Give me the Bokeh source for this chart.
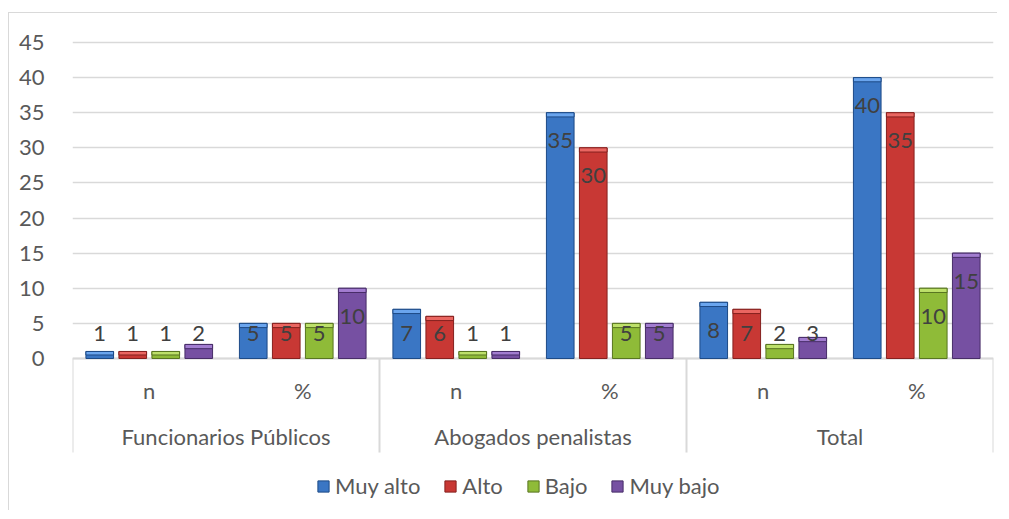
import numpy as np
from bokeh.plotting import figure
from bokeh.models import Range1d, FixedTicker, Legend, LegendItem, ColumnDataSource
from bokeh.core.properties import value
from bokeh.embed import file_html
from bokeh.resources import INLINE

# ---- data ----
groups = ["Funcionarios Públicos", "Abogados penalistas", "Total"]
subcats = ["n", "%", "n", "%", "n", "%"]
series = ["Muy alto", "Alto", "Bajo", "Muy bajo"]
muy_alto = [1, 5, 7, 35, 8, 40]
alto = [1, 5, 6, 30, 7, 35]
bajo = [1, 5, 1, 5, 2, 10]
muy_bajo = [2, 10, 1, 5, 3, 15]
y_ticks = [0, 5, 10, 15, 20, 25, 30, 35, 40, 45]

fills = ["#3a76c4", "#c83834", "#8fbb38", "#7650a2"]
edges = ["#1d4a86", "#85201e", "#587520", "#472d68"]
bevels = ["#6aa5ee", "#ea6661", "#bde06a", "#a27dd0"]

FONT = "Lato"
TXT = "#595959"
GRID = "#d9d9d9"
FS = "22px"

p = figure(width=989, height=498, output_backend="svg", toolbar_location=None,
           x_range=Range1d(0, 6), y_range=Range1d(-21.789, 46.709),
           min_border_left=63, min_border_right=5, min_border_top=17, min_border_bottom=0)
p.styles = {"margin-top": "12px", "margin-left": "8px",
            "border-top": "1px solid #d9d9d9", "border-left": "1px solid #d9d9d9"}
p.outline_line_color = None
p.xaxis.visible = False
p.xgrid.visible = False
p.yaxis.ticker = FixedTicker(ticks=y_ticks)
p.yaxis.axis_line_color = None
p.yaxis.major_tick_line_color = None
p.yaxis.minor_tick_line_color = None
p.yaxis.major_label_standoff = 22
p.yaxis.major_label_text_font = FONT
p.yaxis.major_label_text_font_size = FS
p.yaxis.major_label_text_color = TXT
p.ygrid.grid_line_color = GRID
p.ygrid.grid_line_width = 1.3

# axis line and dividers
p.segment(x0=[0], y0=[0], x1=[6], y1=[0], line_color=GRID, line_width=2)
div_x = [0, 2, 4, 6]
p.segment(x0=div_x, y0=[0] * 4, x1=div_x, y1=[-13.39] * 4, line_color=GRID, line_width=2)

step = 0.215
bw = 0.18
legend_items = []
all_vals = [muy_alto, alto, bajo, muy_bajo]
for j, (name, vals) in enumerate(zip(series, all_vals)):
    v = np.array(vals, dtype=float)
    xs = np.arange(len(v)) + 0.5 + (j - 1.5) * step
    src = ColumnDataSource(dict(x=xs, top=v, bev=v - np.minimum(0.6, v * 0.5),
                                ly=np.maximum(v - 4.0, 3.6), lab=[str(int(a)) for a in v]))
    r = p.vbar(x="x", top="top", bottom=0, width=bw, source=src,
               fill_color=fills[j], line_color=edges[j], line_width=1)
    p.vbar(x="x", top="top", bottom="bev", width=bw, source=src,
           fill_color=bevels[j], line_color=edges[j], line_width=1)
    p.text(x="x", y="ly", text="lab", source=src, text_align="center", text_baseline="middle",
           text_font=value(FONT), text_font_size=FS, text_color="#404040")
    legend_items.append(LegendItem(label=name, renderers=[r]))

# category labels
sub_x = np.arange(len(subcats)) + 0.5
p.text(x=sub_x, y=[-4.56] * len(subcats), text=subcats, text_align="center", text_baseline="middle",
       text_font=value(FONT), text_font_size=FS, text_color=TXT)
grp_x = np.arange(len(groups)) * 2 + 1.0
p.text(x=grp_x, y=[-11.1] * len(groups), text=groups, text_align="center", text_baseline="middle",
       text_font=value(FONT), text_font_size=FS, text_color=TXT)

legend = Legend(items=legend_items, orientation="horizontal", location=(244, 12),
                glyph_width=14, glyph_height=14, label_standoff=5, spacing=23,
                label_text_font=FONT, label_text_font_size=FS, label_text_color=TXT,
                background_fill_alpha=0, border_line_color=None, padding=0, margin=0)
p.add_layout(legend, "center")

open("out.html", "w").write(file_html(p, INLINE))
